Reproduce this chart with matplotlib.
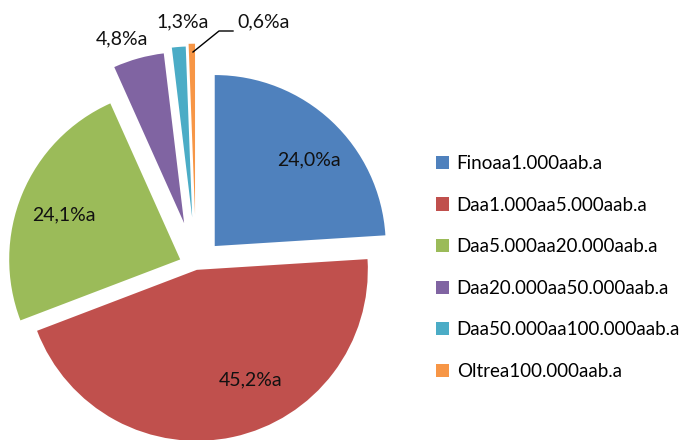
import matplotlib.pyplot as plt

plt.rcParams['font.family'] = ['Lato', 'DejaVu Sans']

categories = ['Finoaa1.000aab.a', 'Daa1.000aa5.000aab.a', 'Daa5.000aa20.000aab.a',
              'Daa20.000aa50.000aab.a', 'Daa50.000aa100.000aab.a', 'Oltrea100.000aab.a']
shares = [24.0, 45.2, 24.1, 4.8, 1.3, 0.6]
colors = ['#4F81BD', '#C0504D', '#9BBB59', '#8064A2', '#4BACC6', '#F79646']
explode = [0.16, 0.023, 0.10, 0.26, 0.285, 0.30]

# pie centre and radius in pixels of the 691x440 picture
CX, CY, R = 196, 266, 171
W, H = 691, 440


def px(x, y):
    return (x - CX) / R, (CY - y) / R


fig = plt.figure(figsize=(6.91, 4.40), dpi=100)
ax = fig.add_axes([0, 0, 1, 1])

wedges, _ = ax.pie(shares, colors=colors, explode=explode, startangle=90,
                   counterclock=False, radius=1, wedgeprops=dict(linewidth=0))

ax.set_xlim(-CX / R, (W - CX) / R)
ax.set_ylim(-(H - CY) / R, CY / R)
ax.set_aspect('equal')
ax.axis('off')

labels = [f"{v:.1f}%a".replace('.', ',') for v in shares]
label_pos = [(309, 160), (251, 380), (64, 215), (122, 39), (183, 22), (264, 22)]
for lab, (x, y) in zip(labels, label_pos):
    ax.text(*px(x, y), lab, fontsize=14, ha='center', va='center', color='#111111')

# leader line for the smallest slice
lx, ly = zip(px(193, 52), px(219, 31), px(233, 31))
ax.plot(lx, ly, color='black', linewidth=1)

ax.legend(wedges, categories, loc='upper left', bbox_to_anchor=(436 / W, 1 - 155 / H),
          frameon=False, fontsize=13.5, handlelength=0.7, handleheight=0.7,
          handletextpad=0.4, labelspacing=1.31, borderpad=0, borderaxespad=0)

fig.savefig('out.png', dpi=100)
